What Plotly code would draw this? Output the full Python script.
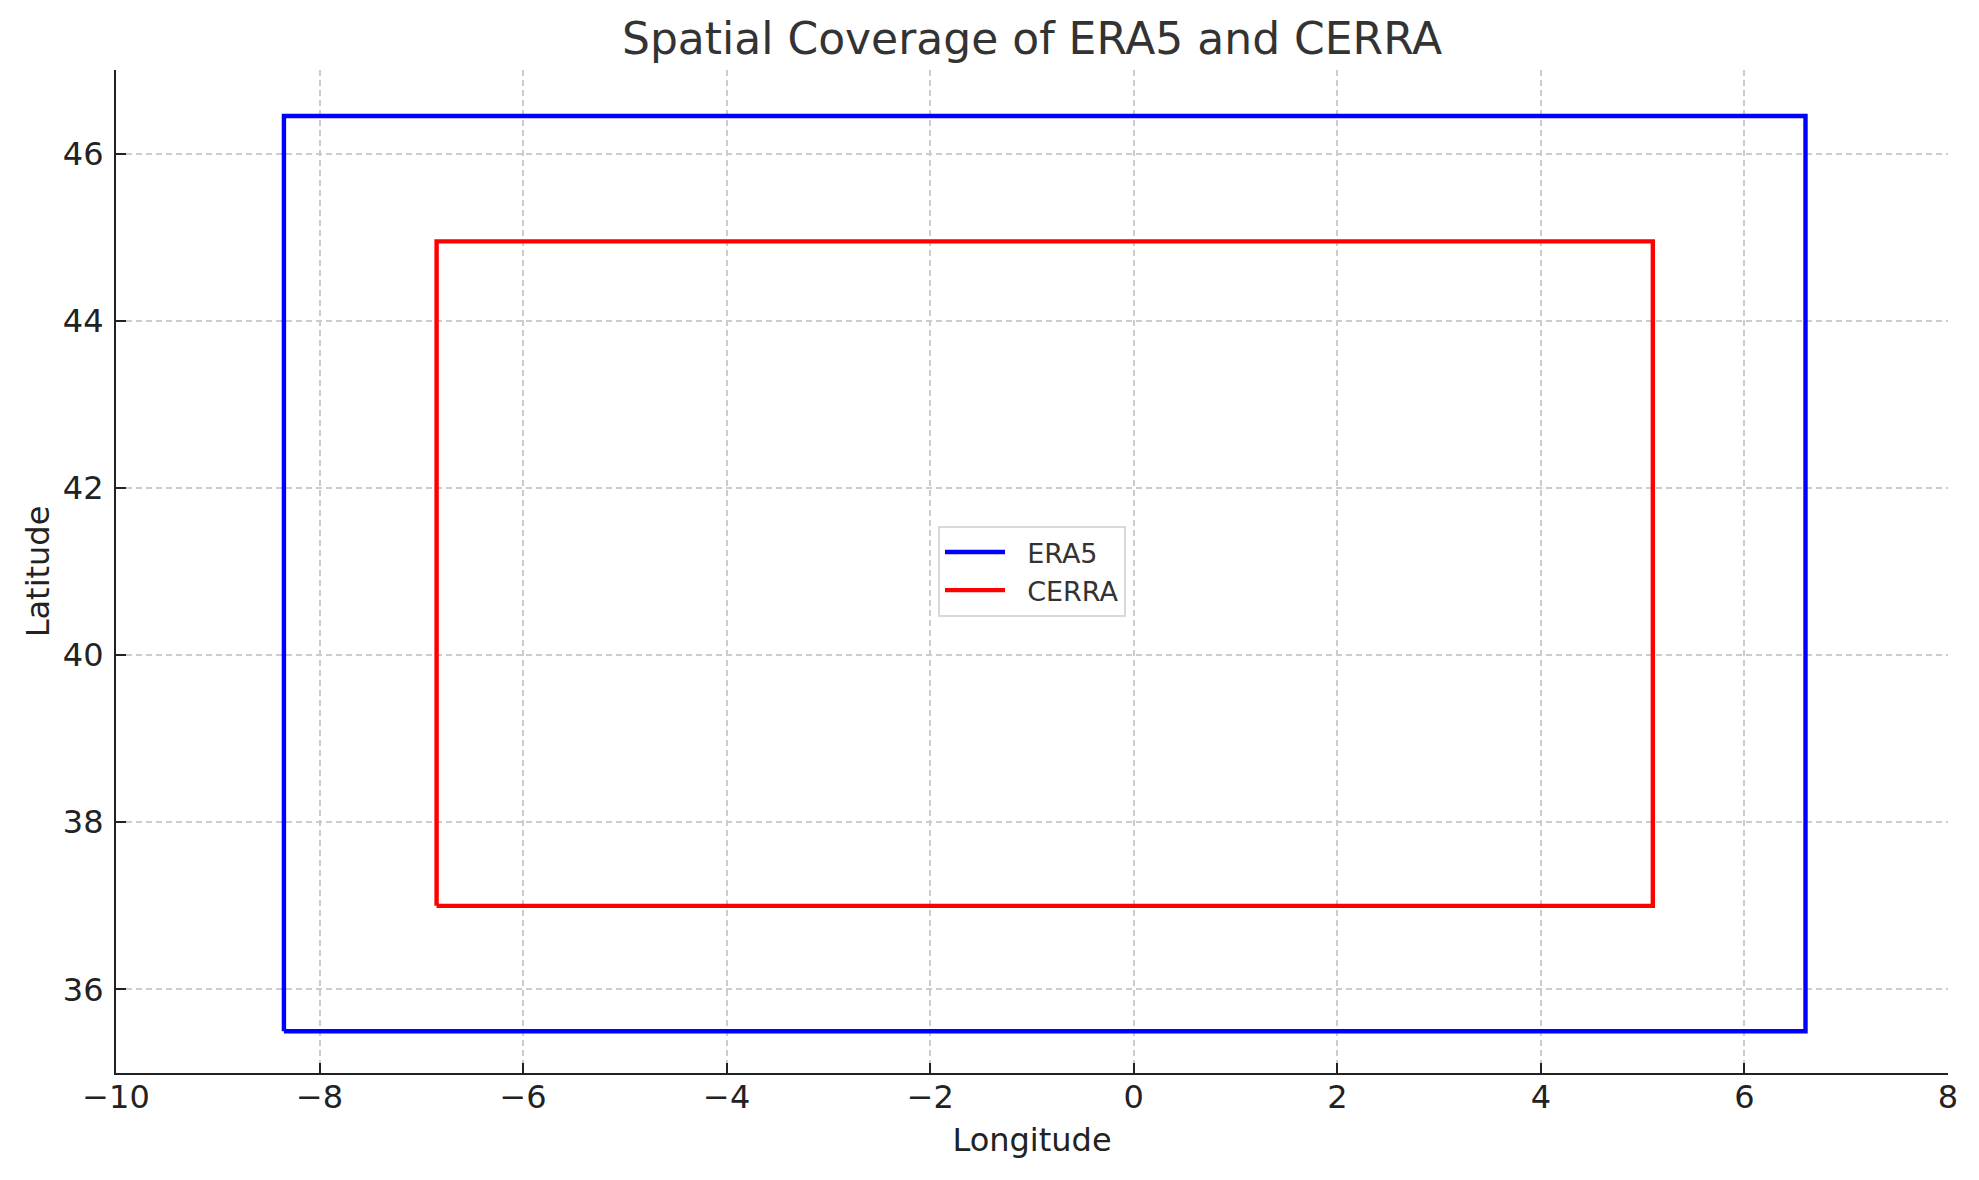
import plotly.graph_objects as go

# Data
era5_lon = [-8.35, 6.6]
era5_lat = [35.5, 46.45]
cerra_lon = [-6.85, 5.1]
cerra_lat = [37.0, 44.95]
series_names = ["ERA5", "CERRA"]
series_colors = ["#0000ff", "#ff0000"]
x_ticks = [-10, -8, -6, -4, -2, 0, 2, 4, 6, 8]
y_ticks = [36, 38, 40, 42, 44, 46]
x_range = [-10, 8]
y_range = [35, 47]


def box(lon, lat):
    xs = [lon[0], lon[1], lon[1], lon[0], lon[0]]
    ys = [lat[0], lat[0], lat[1], lat[1], lat[0]]
    return xs, ys


FONT = "DejaVu Sans"
PAD = "\u00a0\u00a0"  # gap between legend line and label
fig = go.Figure()
for (lon, lat), name, col in zip([(era5_lon, era5_lat), (cerra_lon, cerra_lat)],
                                 series_names, series_colors):
    xs, ys = box(lon, lat)
    fig.add_trace(go.Scatter(x=xs, y=ys, mode="lines", name=PAD + name,
                             line=dict(color=col, width=4.4)))


def tick_text(v):
    return str(v).replace("-", "\u2212")


axis_common = dict(
    showline=True, linecolor="#222222", linewidth=2.2,
    ticks="inside", ticklen=10, tickwidth=2.2, tickcolor="#222222",
    showgrid=True, gridcolor="#cccccc", gridwidth=1.6, griddash="6px,4px",
    zeroline=False, mirror=False,
    tickfont=dict(family=FONT, size=32, color="#222222"),
    automargin=True,
)

fig.update_layout(
    width=1979, height=1180, autosize=False,
    margin=dict(l=116, r=31, t=70, b=107, pad=0),
    paper_bgcolor="white", plot_bgcolor="white",
    title=dict(text="Spatial Coverage of ERA5 and CERRA",
               font=dict(family=FONT, size=44, color="#333333"),
               x=0.5, xref="paper", xanchor="center",
               y=1 - 39 / 1180, yref="container", yanchor="middle"),
    xaxis=dict(range=x_range, tickvals=x_ticks,
               ticktext=[tick_text(v) for v in x_ticks],
               title=dict(text="Longitude", standoff=14,
                          font=dict(family=FONT, size=32, color="#222222")),
               ticklabelstandoff=-6,
               **axis_common),
    yaxis=dict(range=y_range, tickvals=y_ticks,
               ticktext=[tick_text(v) for v in y_ticks],
               title=dict(text="Latitude", standoff=4,
                          font=dict(family=FONT, size=32, color="#222222")),
               ticklabelstandoff=4,
               **axis_common),
    legend=dict(x=0.5, y=0.5, xanchor="center", yanchor="middle",
                bgcolor="white", bordercolor="#d9d9d9", borderwidth=2,
                font=dict(family=FONT, size=27, color="#333333"),
                itemwidth=60),
    showlegend=True,
)

fig.write_html("out.html", include_plotlyjs=True,
               config={"displayModeBar": False},
               post_script="document.body.style.margin='0';document.body.style.overflow='hidden';")
